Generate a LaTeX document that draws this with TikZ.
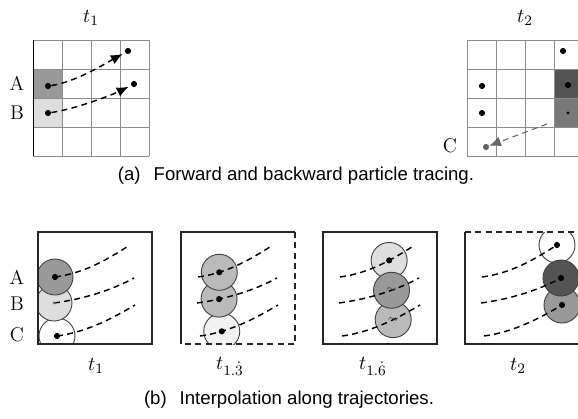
\documentclass[tikz,border=0pt]{standalone}
\usepackage{fontspec}
\newfontfamily\capfont{Liberation Sans}
\usetikzlibrary{arrows.meta,calc}

\tikzset{
  cellline/.style={draw=black!45, line width=0.5pt},
  boxline/.style={draw=black!85, line width=0.6pt},
  boxdash/.style={dash pattern=on 3.3pt off 2.4pt},
  track/.style={dash pattern=on 3.3pt off 2.4pt, line width=0.8pt},
  tracetip/.style={-{Latex[length=6.5pt,width=5.5pt]}},
  pdot/.style={circle, fill=black, inner sep=0pt, minimum size=3.4pt},
  psmall/.style={circle, fill=black!55, inner sep=0pt, minimum size=1.8pt},
  ptilde/.style={inner sep=0pt, text=black!75, font=\fontsize{7}{7}\selectfont, execute at begin node={$\sim$}},
  blob/.style={draw=black!75, line width=0.5pt},
  lbl/.style={font=\fontsize{11}{13}\selectfont},
  captext/.style={font=\capfont\fontsize{10.3}{12}\selectfont},
}

\begin{document}
\begin{tikzpicture}[x=0.554pt, y=-0.554pt]
    \clip (0,0) rectangle (578,418);

    % Grid at t1 with the two seeded cells
    \fill[black!40] (33,69) rectangle (62,98);
    \fill[black!13] (33,98) rectangle (62,127);
    \foreach \i in {0,...,4} {
        \draw[cellline] (33+29*\i,40) -- (33+29*\i,156);
        \draw[cellline] (33,40+29*\i) -- (149,40+29*\i);
    }
    \draw[line width=0.5pt] (33,40) -- (33,156);

    \node[lbl] (tone) at (91,18) {$t_1$};
    \node[lbl] (lA) at (17,83) {A};
    \node[lbl] (lB) at (17,113) {B};

    % Forward tracing of A and B
    \node[pdot] (a0) at (48,86) {};
    \node[pdot] (a1) at (128,51) {};
    \node[pdot] (b0) at (48,113) {};
    \node[pdot] (b1) at (134,84) {};
    \draw[track, tracetip, shorten >=1.5pt] (a0) .. controls +(28,-4) and +(-20,11) .. (a1);
    \draw[track, tracetip, shorten >=1.5pt] (b0) .. controls +(28,-4) and +(-20,10) .. (b1);

    % Grid at t2
    \fill[black!67] (554,69) rectangle (583,98);
    \fill[black!53] (554,98) rectangle (583,127);
    \foreach \i in {0,...,4} {
        \draw[cellline] (467+29*\i,40) -- (467+29*\i,156);
        \draw[cellline] (467,40+29*\i) -- (583,40+29*\i);
    }

    \node[lbl] (ttwo) at (525,18) {$t_2$};
    \node[lbl] (lC) at (450,146) {C};

    \node[pdot] (d1) at (563,51) {};
    \node[pdot] (d2) at (482,86) {};
    \node[pdot] (d3) at (482,113) {};
    \node[pdot] (d4) at (568,85) {};
    \node[psmall, fill=black] (d5) at (568,113) {};

    % Backward tracing of C
    \node[pdot, fill=black!60] (c0) at (486,147) {};
    \coordinate (c1) at (547,124);
    \draw[track, tracetip, black!60, line width=0.6pt] (c1) -- (c0);

    \node[captext] (capa) at (296,176) {(a)\hspace{0.7em}Forward and backward particle tracing.};

    % Interpolation boxes: left edge / position / fills / marks / drawing order
    \foreach \L/\p/\fa/\fb/\fc/\ma/\mb/\mc/\ord in {
        38/0/black!40/black!13/white/pdot/psmall/pdot/{C,B,A},
        181/0.25/black!27/black!27/black!5/pdot/pdot/pdot/{C,B,A},
        323/0.62/black!13/black!40/black!27/pdot/ptilde/ptilde/{A,C,B},
        465/1/white/black!67/black!40/pdot/pdot/pdot/{A,C,B}} {
        \colorlet{fillA}{\fa}
        \colorlet{fillB}{\fb}
        \colorlet{fillC}{\fc}
        \begin{scope}
            \clip (\L,232) rectangle (\L+114,344);
            \coordinate (A0) at (\L+17,277);
            \coordinate (A1) at (\L+92,245);
            \coordinate (B0) at (\L+16,303);
            \coordinate (B1) at (\L+96,278);
            \coordinate (C0) at (\L+19,336);
            \coordinate (C1) at (\L+97,305);
            \path (A0) .. controls +(30,-4) and +(-22,14) .. coordinate[pos=\p] (pA) (A1);
            \path (B0) .. controls +(30,-4) and +(-22,12) .. coordinate[pos=\p] (pB) (B1);
            \path (C0) .. controls +(30,-4) and +(-22,13) .. coordinate[pos=\p] (pC) (C1);

            \foreach \c in \ord {
                \draw[blob, fill=fill\c] (p\c) circle[radius=18];
            }
            \draw[track] (A0) .. controls +(30,-4) and +(-22,14) .. (A1);
            \draw[track] (B0) .. controls +(30,-4) and +(-22,12) .. (B1);
            \draw[track] (C0) .. controls +(30,-4) and +(-22,13) .. (C1);

            \node[\ma] (mA) at (pA) {};
            \node[\mb] (mB) at (pB) {};
            \node[\mc] (mC) at (pC) {};
        \end{scope}
    }

    % Box outlines
    \draw[boxline] (38,232) rectangle (152,344);
    \draw[boxline] (181,344) -- (181,232) -- (295,232);
    \draw[boxline, boxdash] (295,232) -- (295,344) -- (181,344);
    \draw[boxline] (323,232) rectangle (437,344);
    \draw[boxline] (580,344) -- (465,344) -- (465,232);
    \draw[boxline, boxdash] (465,232) -- (580,232);

    \node[lbl] (bA) at (17,277) {A};
    \node[lbl] (bB) at (17,304) {B};
    \node[lbl] (bC) at (17,335) {C};

    \node[lbl] (sone) at (96,366) {$t_1$};
    \node[lbl] (sthree) at (230,366) {$t_{1.\dot{3}}$};
    \node[lbl] (ssix) at (373,366) {$t_{1.\dot{6}}$};
    \node[lbl] (stwo) at (518,366) {$t_2$};

    \node[captext] (capb) at (289,400) {(b)\hspace{0.7em}Interpolation along trajectories.};
\end{tikzpicture}
\end{document}
